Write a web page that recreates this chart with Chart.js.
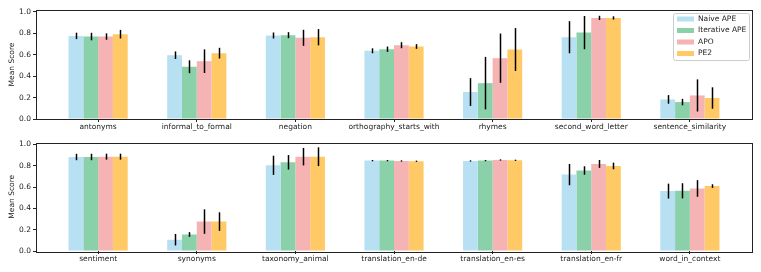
<!DOCTYPE html>
<html>
<head>
<meta charset="utf-8">
<script src="https://cdn.jsdelivr.net/npm/chart.js@4/dist/chart.umd.min.js"></script>
<style>
	body { margin: 0; background: #fff; }
	.panel { position: relative; width: 761px; height: 136px; }
</style>
</head>
<body>
<div class="panel"><canvas id="topChart"></canvas></div>
<div class="panel"><canvas id="bottomChart"></canvas></div>
<script>
"use strict";

const seriesLabels = ["Naive APE", "Iterative APE", "APO", "PE2"];
const seriesColors = ["#b7e1f3", "#8ad1aa", "#f6b3b3", "#ffc966"];

const topCategories = ["antonyms", "informal_to_formal", "negation", "orthography_starts_with", "rhymes", "second_word_letter", "sentence_similarity"];
const topNaiveApe = [0.776, 0.596, 0.780, 0.637, 0.252, 0.764, 0.183];
const topIterativeApe = [0.770, 0.488, 0.783, 0.652, 0.335, 0.807, 0.158];
const topApo = [0.770, 0.540, 0.758, 0.689, 0.568, 0.944, 0.220];
const topPe2 = [0.792, 0.615, 0.764, 0.677, 0.649, 0.944, 0.196];
const topNaiveApeErr = [0.030, 0.035, 0.028, 0.023, 0.130, 0.150, 0.040];
const topIterativeApeErr = [0.035, 0.060, 0.028, 0.025, 0.245, 0.155, 0.030];
const topApoErr = [0.030, 0.110, 0.075, 0.028, 0.230, 0.020, 0.150];
const topPe2Err = [0.040, 0.050, 0.076, 0.022, 0.200, 0.015, 0.100];

const bottomCategories = ["sentiment", "synonyms", "taxonomy_animal", "translation_en-de", "translation_en-es", "translation_en-fr", "word_in_context"];
const bottomNaiveApe = [0.882, 0.106, 0.804, 0.848, 0.845, 0.717, 0.562];
const bottomIterativeApe = [0.882, 0.155, 0.832, 0.848, 0.848, 0.755, 0.565];
const bottomApo = [0.885, 0.276, 0.885, 0.845, 0.854, 0.817, 0.587];
const bottomPe2 = [0.885, 0.276, 0.885, 0.842, 0.851, 0.798, 0.609];
const bottomNaiveApeErr = [0.030, 0.054, 0.090, 0.006, 0.006, 0.100, 0.070];
const bottomIterativeApeErr = [0.030, 0.022, 0.068, 0.006, 0.006, 0.040, 0.071];
const bottomApoErr = [0.028, 0.115, 0.082, 0.006, 0.006, 0.037, 0.078];
const bottomPe2Err = [0.028, 0.087, 0.088, 0.006, 0.006, 0.031, 0.017];

const yTicks = [0, 0.2, 0.4, 0.6, 0.8, 1.0];

Chart.defaults.font.family = "'DejaVu Sans', sans-serif";
Chart.defaults.font.size = 7.5;
Chart.defaults.color = "#222";

// black vertical error bars on every bar, no caps
const errorBarPlugin = {
	id: "errorBars",
	afterDatasetsDraw: (chart, args, options) => {
		let ctx = chart.ctx;
		let yScale = chart.scales.y;
		ctx.save();
		ctx.strokeStyle = "#000";
		ctx.lineWidth = 1.5;
		chart.data.datasets.forEach((dataset, datasetIndex) => {
			let meta = chart.getDatasetMeta(datasetIndex);
			meta.data.forEach((bar, index) => {
				let value = dataset.data[index].y;
				let err = options.errors[datasetIndex][index];
				let x = Math.round(bar.x) + 0.5;
				ctx.beginPath();
				ctx.moveTo(x, yScale.getPixelForValue(value - err));
				ctx.lineTo(x, yScale.getPixelForValue(value + err));
				ctx.stroke();
			});
		});
		ctx.restore();
	}
};

// axes frame on all four sides, like matplotlib spines
const framePlugin = {
	id: "frame",
	afterDraw: chart => {
		let area = chart.chartArea;
		let ctx = chart.ctx;
		ctx.save();
		ctx.strokeStyle = "#222";
		ctx.lineWidth = 1;
		ctx.strokeRect(Math.round(area.left) + 0.5, Math.round(area.top) + 0.5, Math.round(area.right - area.left), Math.round(area.bottom - area.top));
		ctx.restore();
	}
};

// boxed legend in the upper right corner of the top panel
const boxLegendPlugin = {
	id: "boxLegend",
	afterDraw: (chart, args, options) => {
		if (!options.show) return;
		let ctx = chart.ctx;
		let area = chart.chartArea;
		let boxRight = area.right - 3;
		let boxLeft = boxRight - 76;
		let boxTop = area.top + 3;
		let boxHeight = 47;
		ctx.save();
		ctx.fillStyle = "rgba(255, 255, 255, 0.8)";
		ctx.strokeStyle = "#ccc";
		ctx.lineWidth = 1;
		ctx.beginPath();
		ctx.roundRect(boxLeft + 0.5, boxTop + 0.5, boxRight - boxLeft, boxHeight, 2);
		ctx.fill();
		ctx.stroke();
		ctx.font = "7.5px 'DejaVu Sans', sans-serif";
		ctx.textBaseline = "middle";
		chart.data.datasets.forEach((dataset, datasetIndex) => {
			let y = boxTop + 6 + datasetIndex * 11.5;
			ctx.fillStyle = dataset.backgroundColor;
			ctx.fillRect(boxLeft + 4, y - 2.5, 17, 5);
			ctx.fillStyle = "#222";
			ctx.fillText(dataset.label, boxLeft + 25, y);
		});
		ctx.restore();
	}
};

const buildPanel = (canvasId, categories, seriesValues, seriesErrors, paddingTop, axisHeight, showLegend) => {
	let canvas = document.querySelector("canvas#" + canvasId);
	let datasets = [];
	for (let seriesIndex = 0; seriesIndex < seriesLabels.length; seriesIndex++) {
		datasets.push({
			label: seriesLabels[seriesIndex],
			data: seriesValues[seriesIndex].map((value, index) => ({ x: index, y: value })),
			backgroundColor: seriesColors[seriesIndex],
			categoryPercentage: 0.6,
			barPercentage: 1
		});
	}
	new Chart(canvas, {
		type: "bar",
		data: {
			datasets: datasets
		},
		options: {
			responsive: true,
			maintainAspectRatio: false,
			animation: false,
			layout: {
				padding: { top: paddingTop, right: 9, left: 0, bottom: 0 }
			},
			scales: {
				x: {
					type: "linear",
					offset: false,
					min: -0.63,
					max: 6.63,
					afterBuildTicks: scale => {
						scale.ticks = categories.map((category, index) => ({ value: index }));
					},
					afterFit: scale => {
						scale.height = axisHeight;
					},
					ticks: {
						callback: value => categories[value],
						autoSkip: false,
						maxRotation: 0,
						padding: 1
					},
					grid: {
						offset: false,
						drawOnChartArea: false,
						drawTicks: true,
						tickLength: 3,
						color: "#222"
					},
					border: { display: false }
				},
				y: {
					min: 0,
					max: 1.018,
					afterBuildTicks: scale => {
						scale.ticks = yTicks.map(value => ({ value: value }));
					},
					afterFit: scale => {
						scale.width = 36;
					},
					ticks: {
						callback: value => value.toFixed(1),
						padding: 2
					},
					grid: {
						drawOnChartArea: false,
						drawTicks: true,
						tickLength: 3,
						color: "#222"
					},
					border: { display: false },
					title: {
						display: true,
						text: "Mean Score",
						padding: { top: 8, bottom: 0 }
					}
				}
			},
			plugins: {
				legend: { display: false },
				tooltip: { enabled: false },
				errorBars: { errors: seriesErrors },
				boxLegend: { show: showLegend }
			}
		},
		plugins: [errorBarPlugin, framePlugin, boxLegendPlugin]
	});
};

buildPanel("topChart", topCategories,
	[topNaiveApe, topIterativeApe, topApo, topPe2],
	[topNaiveApeErr, topIterativeApeErr, topApoErr, topPe2Err],
	10, 17, true);
buildPanel("bottomChart", bottomCategories,
	[bottomNaiveApe, bottomIterativeApe, bottomApo, bottomPe2],
	[bottomNaiveApeErr, bottomIterativeApeErr, bottomApoErr, bottomPe2Err],
	5, 21, false);
</script>
</body>
</html>
